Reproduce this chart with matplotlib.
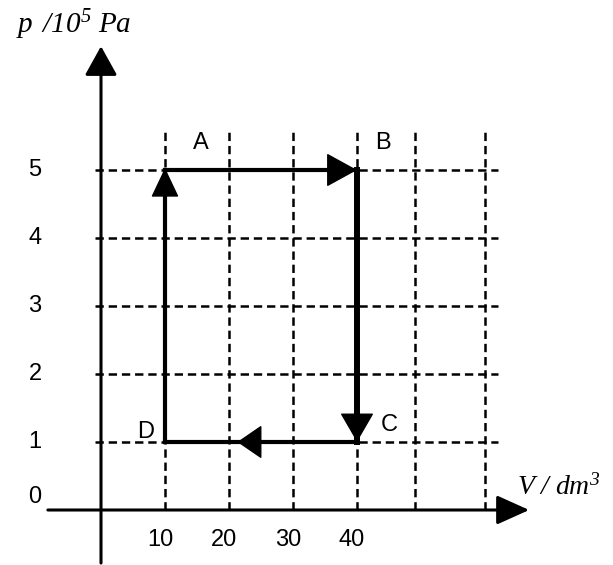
import matplotlib
matplotlib.use('Agg')
import matplotlib.pyplot as plt

plt.rcParams['lines.scale_dashes'] = False
plt.rcParams['mathtext.fontset'] = 'custom'
plt.rcParams['mathtext.it'] = 'Liberation Serif:italic'
plt.rcParams['mathtext.rm'] = 'Liberation Serif:italic'

# cycle D -> A -> B -> C -> D
state_names = ['D', 'A', 'B', 'C']
volume = [10, 10, 40, 40]          # dm^3
pressure = [1, 5, 5, 1]            # 10^5 Pa

v_ticks = [10, 20, 30, 40]
p_ticks = [0, 1, 2, 3, 4, 5]
v_grid = [10, 20, 30, 40, 49, 60]
p_grid = [1, 2, 3, 4, 5]

# pixel scale of the drawing: 6.4 px per dm^3, 68 px per 10^5 Pa
W, H = 613, 565
x0, y0 = 101, 510
sx, sy = 6.4, 68.0

fig = plt.figure(figsize=(W / 100, H / 100), dpi=100)
ax = fig.add_axes([0, 0, 1, 1])
ax.set_xlim(-x0 / sx, (W - x0) / sx)
ax.set_ylim(-(H - y0) / sy, y0 / sy)
ax.set_axis_off()

grid_kw = dict(color='black', lw=1.8, dashes=(6, 3.5))
for v in v_grid:
    ax.plot([v, v], [0, 5.62], **grid_kw)
for p in p_grid:
    ax.plot([-1.0, 62], [p, p], **grid_kw)

# axes with arrow heads
ax.annotate('', xy=(66.9, 0), xytext=(-8.3, 0),
            arrowprops=dict(arrowstyle='-|>,head_length=1.0,head_width=0.45',
                            mutation_scale=20, lw=2.2, color='black',
                            shrinkA=0, shrinkB=0))
ax.annotate('', xy=(0, 6.82), xytext=(0, -0.78),
            arrowprops=dict(arrowstyle='-|>,head_length=0.9,head_width=0.5',
                            mutation_scale=20, lw=2.2, color='black',
                            shrinkA=0, shrinkB=0))

# process lines
vv = volume + volume[:1]
pp = pressure + pressure[:1]
widths = [3.0, 3.0, 4.3, 3.0]
for i in range(4):
    ax.plot(vv[i:i + 2], pp[i:i + 2], color='black', lw=widths[i],
            solid_capstyle='projecting')

# direction arrows: (tip, tail, head length, head half-width)
heads = [
    ((volume[1], 5.03), (volume[1], 3.0), 0.95, 0.45),
    ((volume[2], pressure[2]), (25, pressure[2]), 1.0, 0.55),
    ((volume[3], pressure[3]), (volume[3], 3.0), 0.95, 0.55),
    ((21.3, pressure[0]), (volume[3], pressure[0]), 0.8, 0.55),
]
for tip, tail, hl, hw in heads:
    ax.annotate('', xy=tip, xytext=tail,
                arrowprops=dict(arrowstyle=f'-|>,head_length={hl},head_width={hw}',
                                mutation_scale=20, lw=1, color='black',
                                shrinkA=0, shrinkB=0))

lab_kw = dict(fontsize=17, family='Liberation Sans', color='black')
for v in v_ticks:
    ax.text(v - 0.8, -0.44, str(v), ha='center', va='center', **lab_kw)
for p in p_ticks:
    ax.text(-10.3, p + (0.19 if p == 0 else 0), str(p), ha='center', va='center', **lab_kw)

offsets = {'A': (5.6, 0.39), 'B': (4.0, 0.39), 'C': (5.0, 0.25), 'D': (-3.1, 0.15)}
for name, v, p in zip(state_names, volume, pressure):
    dx, dy = offsets[name]
    ax.text(v + dx, p + dy, name, ha='center', va='center', **lab_kw)

ax.text(-4.3, 7.13, r'$p\ \,/10^5\ Pa$', fontsize=21, ha='center', va='center')
ax.text(71.6, 0.34, r'$V\ /\ dm^3$', fontsize=20, ha='center', va='center')

fig.savefig('out.png', dpi=100)
